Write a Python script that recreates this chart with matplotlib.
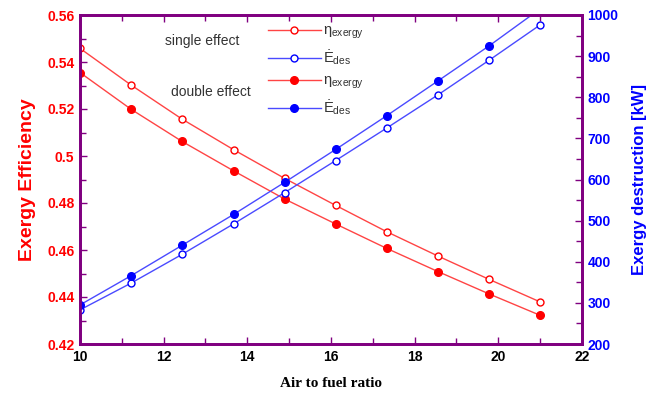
import numpy as np
import matplotlib
matplotlib.use("Agg")
import matplotlib.pyplot as plt
from matplotlib.ticker import MultipleLocator

# air to fuel ratio
afr = [10.0, 11.22, 12.44, 13.67, 14.89, 16.11, 17.33, 18.56, 19.78, 21.0]

# single effect (open markers)
eta_single = [0.5458, 0.5302, 0.5157, 0.5027, 0.4905, 0.4790, 0.4678, 0.4574, 0.4475, 0.4379]
edes_single = [283, 348, 418, 492, 568, 646, 725, 806, 890, 976]

# double effect (filled markers)
eta_double = [0.5355, 0.5199, 0.5062, 0.4937, 0.4817, 0.4711, 0.4607, 0.4508, 0.4413, 0.4322]
edes_double = [295, 366, 440, 515, 593, 673, 755, 840, 925, 1015]

PURPLE = '#800080'
RED_L, RED_M = '#ff4444', '#ff0000'
BLUE_L, BLUE_M = '#4a4aff', '#0000ff'

plt.rcParams['font.family'] = ['Liberation Sans', 'DejaVu Sans']
plt.rcParams['mathtext.fontset'] = 'custom'
plt.rcParams['mathtext.rm'] = 'Liberation Sans'
plt.rcParams['mathtext.it'] = 'Liberation Sans:italic'
plt.rcParams['mathtext.bf'] = 'Liberation Sans:bold'

fig = plt.figure(figsize=(6.59, 3.94), dpi=100)
ax = fig.add_axes([80/659, 1-344/394, (582-80)/659, (344-15)/394])
ax2 = ax.twinx()

l1, = ax.plot(afr, eta_single, '-o', color=RED_L, lw=1, ms=5, mfc='white', mec=RED_M, mew=1)
l3, = ax.plot(afr, eta_double, '-o', color=RED_L, lw=1, ms=5.5, mfc=RED_M, mec=RED_M)
l2, = ax2.plot(afr, edes_single, '-o', color=BLUE_L, lw=1, ms=5, mfc='white', mec=BLUE_M, mew=1)
l4, = ax2.plot(afr, edes_double, '-o', color=BLUE_L, lw=1, ms=5.5, mfc=BLUE_M, mec=BLUE_M)

ax.set_xlim(10, 22)
ax.set_ylim(0.42, 0.56)
ax2.set_ylim(200, 1000)
ax.xaxis.set_major_locator(MultipleLocator(2))
ax.xaxis.set_minor_locator(MultipleLocator(1))
ax.yaxis.set_major_locator(MultipleLocator(0.02))
ax.yaxis.set_minor_locator(MultipleLocator(0.01))
ax2.yaxis.set_major_locator(MultipleLocator(100))
ax2.yaxis.set_minor_locator(MultipleLocator(50))
ax.yaxis.set_major_formatter(plt.FuncFormatter(lambda v, p: ('%g' % round(v, 2))))

for a in (ax, ax2):
    for s in a.spines.values():
        s.set_color(PURPLE)
        s.set_linewidth(2)
ax.tick_params(which='both', direction='in', color=PURPLE, width=1, top=True, right=False, pad=4)
ax.tick_params(which='major', length=5)
ax.tick_params(which='minor', length=4)
ax.tick_params(axis='x', labelsize=10, labelcolor='black')
ax.tick_params(axis='y', labelsize=10, labelcolor=RED_M)
ax2.tick_params(which='both', direction='in', color=PURPLE, width=1, pad=4, labelsize=10, labelcolor=BLUE_M)
ax2.tick_params(which='major', length=5)
ax2.tick_params(which='minor', length=4)
for lab in ax.get_xticklabels() + ax.get_yticklabels() + ax2.get_yticklabels():
    lab.set_fontweight('bold')

ax.set_xlabel('Air to fuel ratio', family='Liberation Serif', fontweight='bold', fontsize=11, labelpad=10)
ax.set_ylabel('Exergy Efficiency', color=RED_M, fontweight='bold', fontsize=14, labelpad=8)
ax2.set_ylabel('Exergy destruction [kW]', color=BLUE_M, fontweight='bold', fontsize=12, labelpad=10)

fig.text(165/659, 1-41/394, 'single effect', fontsize=10, color='#333333', va='center')
fig.text(171/659, 1-92/394, 'double effect', fontsize=10, color='#333333', va='center')

leg = fig.legend([l1, l2, l3, l4],
                 [r'η$_{\mathrm{exergy}}$', r'Ė$_{\mathrm{des}}$',
                  r'η$_{\mathrm{exergy}}$', r'Ė$_{\mathrm{des}}$'],
                 loc='upper left', bbox_to_anchor=(268/659, 1-24/394), frameon=False,
                 fontsize=10.5, handlelength=3.6, handletextpad=0.2, labelspacing=0.45,
                 borderpad=0, borderaxespad=0)
for t in leg.get_texts():
    t.set_color('#333333')

fig.savefig('out.png', dpi=100)
